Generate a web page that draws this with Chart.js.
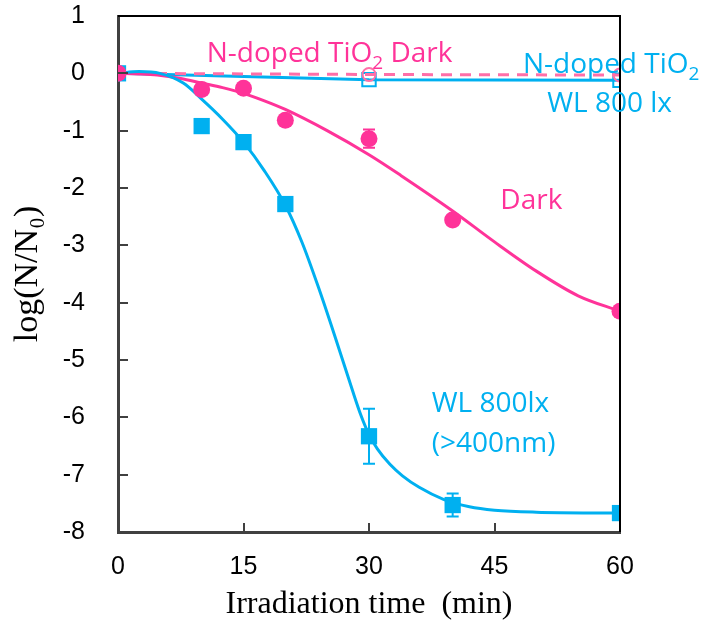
<!DOCTYPE html>
<html><head><meta charset="utf-8">
<script src="https://cdn.jsdelivr.net/npm/chart.js@4/dist/chart.umd.min.js"></script>
<style>html,body{margin:0;padding:0;background:#fff}#wrap{width:716px;height:628px}</style>
</head><body><div id="wrap"><canvas id="c" width="716" height="628"></canvas></div>
<script>
// ---- data ----
const timeMin   = [0, 10, 15, 20, 30, 40, 60];
const wlLog     = [0, -0.92, -1.2, -2.28, -6.33, -7.53, -7.67];
const wlErr     = [0, 0, 0.05, 0, 0.48, 0.2, 0];
const darkLog   = [0, -0.28, -0.26, -0.82, -1.14, -2.56, -4.15];
const darkErr   = [0, 0, 0, 0, 0.16, 0, 0];
const ndTime    = [0, 30, 60];
const ndDarkLog = [0, -0.02, -0.03];
const ndWlLog   = [0, -0.11, -0.12];
// fitted curves
const wlFitX  = [0, 2.5, 5, 7.8, 10, 12.5, 15, 17.5, 20, 22, 24, 26, 28, 29, 30, 31, 32.5, 34, 36, 38.9, 42, 45, 50, 60];
const wlFitY  = [0, 0.03, 0, -0.17, -0.45, -0.8, -1.2, -1.7, -2.3, -2.95, -3.75, -4.62, -5.52, -5.95, -6.3, -6.55, -6.82, -7.02, -7.22, -7.43, -7.56, -7.62, -7.655, -7.67];
const darkFitX = [0, 2.5, 4.7, 7.5, 10, 12.5, 15, 17.5, 20, 25, 30, 33.8, 40, 45, 50, 55, 60];
const darkFitY = [0, -0.01, -0.03, -0.09, -0.17, -0.25, -0.35, -0.48, -0.63, -1.0, -1.42, -1.78, -2.4, -2.94, -3.45, -3.88, -4.15];
const xTicks = [0, 15, 30, 45, 60];
const yTicks = [1, 0, -1, -2, -3, -4, -5, -6, -7, -8];

const BLUE = '#00B0F0', PINK = '#FF3399', PINK2 = '#FF6FA8';
const pts = (xs, ys) => xs.map((x, i) => ({x, y: ys[i]}));

const annotations = [
  {x: 10.6, y: 0.19, color: PINK, parts: [['N-doped TiO'], ['2', 1], [' Dark']]},
  {x: 48.4, y: 0.0, color: BLUE, parts: [['N-doped TiO'], ['2', 1]]},
  {x: 51.3, y: -0.68, color: BLUE, parts: [['WL 800 lx']]},
  {x: 45.7, y: -2.37, color: PINK, parts: [['Dark']]},
  {x: 37.5, y: -5.9, color: BLUE, parts: [['WL 800lx']]},
  {x: 37.5, y: -6.6, color: BLUE, parts: [['(>400nm)']]}
];

const overlay = {
  id: 'overlay',
  beforeDatasetsDraw(chart) {
    const {ctx, scales: {x, y}} = chart;
    ctx.save();
    ctx.lineWidth = 2;
    const bars = [[timeMin, wlLog, wlErr, BLUE], [timeMin, darkLog, darkErr, PINK]];
    bars.forEach(([xs, ys, es, col]) => {
      ctx.strokeStyle = col;
      xs.forEach((t, i) => {
        if (!es[i]) return;
        const px = x.getPixelForValue(t);
        const p1 = y.getPixelForValue(ys[i] + es[i]);
        const p2 = y.getPixelForValue(ys[i] - es[i]);
        ctx.beginPath();
        ctx.moveTo(px, p1); ctx.lineTo(px, p2);
        ctx.moveTo(px - 6, p1); ctx.lineTo(px + 6, p1);
        ctx.moveTo(px - 6, p2); ctx.lineTo(px + 6, p2);
        ctx.stroke();
      });
    });
    ctx.restore();
  },
  afterDatasetsDraw(chart) {
    const {ctx, chartArea: a, scales: {x, y}} = chart;
    ctx.save();
    // inward ticks
    ctx.strokeStyle = '#404040'; ctx.lineWidth = 2;
    ctx.beginPath();
    yTicks.forEach(v => {
      if (v === 1 || v === -8) return;
      const py = Math.round(y.getPixelForValue(v));
      ctx.moveTo(a.left, py); ctx.lineTo(a.left + 10, py);
    });
    xTicks.forEach(v => {
      if (v === 0 || v === 60) return;
      const px = Math.round(x.getPixelForValue(v));
      ctx.moveTo(px, a.bottom); ctx.lineTo(px, a.bottom - 9);
    });
    ctx.stroke();
    // frame top & right
    ctx.strokeStyle = '#000'; ctx.lineWidth = 2;
    ctx.beginPath();
    ctx.moveTo(a.left, a.top); ctx.lineTo(a.right, a.top); ctx.lineTo(a.right, a.bottom);
    ctx.stroke();
    // text annotations
    annotations.forEach(an => {
      let px = x.getPixelForValue(an.x);
      const py = y.getPixelForValue(an.y);
      ctx.fillStyle = an.color;
      ctx.textBaseline = 'alphabetic';
      ctx.textAlign = 'left';
      an.parts.forEach(([t, sub]) => {
        ctx.font = sub ? '19px "Open Sans"' : '28px "Open Sans"';
        ctx.fillText(t, px, sub ? py + 7 : py);
        px += ctx.measureText(t).width;
      });
    });
    ctx.restore();
  }
};

new Chart(document.getElementById('c'), {
  type: 'scatter',
  data: {
    datasets: [
      {label: 'N-doped TiO2 WL 800 lx', data: pts(ndTime, ndWlLog), showLine: true, borderColor: BLUE, borderWidth: 3,
       pointStyle: 'rect', pointRadius: [0, 9.5, 9.5], pointBackgroundColor: 'rgba(0,0,0,0)', pointBorderColor: BLUE, pointBorderWidth: 2, order: 6},
      {label: 'N-doped TiO2 Dark', data: pts(ndTime, ndDarkLog), showLine: true, borderColor: PINK2, borderWidth: 3, borderDash: [11, 8],
       pointStyle: 'circle', pointRadius: [0, 6.5, 6.5], pointBackgroundColor: 'rgba(0,0,0,0)', pointBorderColor: PINK2, pointBorderWidth: 2, order: 5},
      {label: 'WL 800lx fit', data: pts(wlFitX, wlFitY), showLine: true, borderColor: BLUE, borderWidth: 3, pointRadius: 0,
       cubicInterpolationMode: 'monotone', order: 3},
      {label: 'Dark fit', data: pts(darkFitX, darkFitY), showLine: true, borderColor: PINK, borderWidth: 3, pointRadius: 0,
       cubicInterpolationMode: 'monotone', order: 4},
      {label: 'WL 800lx (>400nm)', data: pts(timeMin, wlLog), showLine: false, pointStyle: 'rect', pointRadius: 11.5,
       pointBackgroundColor: BLUE, pointBorderColor: BLUE, pointBorderWidth: 0, order: 2},
      {label: 'Dark', data: pts(timeMin, darkLog), showLine: false, pointStyle: 'circle', pointRadius: 8.5,
       pointBackgroundColor: PINK, pointBorderColor: PINK, pointBorderWidth: 0, order: 1}
    ]
  },
  options: {
    responsive: false, animation: false, events: [],
    layout: {padding: {top: 16, right: 96, left: 0, bottom: 0}},
    plugins: {legend: {display: false}, tooltip: {enabled: false}},
    scales: {
      x: {
        type: 'linear', min: 0, max: 60,
        afterBuildTicks: s => { s.ticks = xTicks.map(v => ({value: v})); },
        afterFit: s => { s.height = 96; s.paddingLeft = 0; s.paddingRight = 0; },
        grid: {display: true, drawOnChartArea: false, drawTicks: false},
        border: {display: true, color: '#404040', width: 3},
        ticks: {color: '#000', font: {family: '"Liberation Sans", Arial', size: 25}, padding: 20, maxRotation: 0},
        title: {display: true, text: 'Irradiation time  (min)', color: '#000',
                font: {family: '"Liberation Serif", "Times New Roman", serif', size: 32}, padding: {top: 0, bottom: 4}}
      },
      y: {
        type: 'linear', min: -8, max: 1,
        afterBuildTicks: s => { s.ticks = yTicks.map(v => ({value: v})); },
        afterFit: s => { s.width = 118; s.paddingTop = 0; s.paddingBottom = 0; },
        grid: {display: true, drawOnChartArea: false, drawTicks: false},
        border: {display: true, color: '#404040', width: 3},
        ticks: {color: '#000', font: {family: '"Liberation Sans", Arial', size: 25}, padding: 33},
        title: {display: true, text: 'log(N/N₀)', color: '#000',
                font: {family: '"Liberation Serif", "Times New Roman", serif', size: 34}, padding: {top: 8, bottom: 0}}
      }
    }
  },
  plugins: [overlay]
});
</script></body></html>
